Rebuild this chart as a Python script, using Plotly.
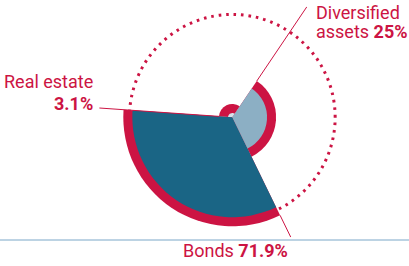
import plotly.graph_objects as go

# ---- data ----
categories = ["Real estate", "Bonds", "Diversified assets"]
values = [3.1, 71.9, 25.0]
fill_colors = ["#d6e2ea", "#1a6585", "#8cafc4"]

RED = "#cc1443"
RING = 6.5          # thickness of red outer ring (radial units)
DOT_R = 74          # dotted reference circle
LEADER_R = 96       # leader line length (radial units)
PX_PER_UNIT = 1.39

n = len(categories)
step = 360 / n
thetas = [i * step for i in range(n)]
ROT = 116

W, H = 409, 266
cx, cy = 232.3, 117.3
P = 117.0                       # radius (px) of main polar
R_MAX = P / PX_PER_UNIT
P2 = LEADER_R * PX_PER_UNIT     # radius (px) of leader-line polar
SEC = [170, 420]                # sector holding leader lines
TOP_FRAC = 0.866                # sin(60deg): upper extent of that sector
FS = 18

fig = go.Figure()

# red outer rings
fig.add_trace(go.Barpolar(
    r=[v + RING for v in values], theta=thetas, width=[step] * n,
    marker=dict(color=RED, line=dict(width=0)), showlegend=False,
    hoverinfo="skip", subplot="polar"))

# value slices
fig.add_trace(go.Barpolar(
    r=values, theta=thetas, width=[step] * n,
    marker=dict(color=fill_colors, line=dict(width=0)), showlegend=False,
    customdata=categories, hovertemplate="%{customdata}: %{r}%<extra></extra>",
    subplot="polar"))

# leader lines along the counter-clockwise edge of each slice
for i, cat in enumerate(categories):
    t = thetas[i] + step / 2
    fig.add_trace(go.Scatterpolar(
        r=[values[i] + RING, LEADER_R], theta=[t, t], mode="lines",
        line=dict(color=RED, width=1), cliponaxis=False,
        hoverinfo="skip", showlegend=False, subplot="polar2"))

hidden_angular = dict(rotation=ROT, direction="counterclockwise",
                      showgrid=False, showline=False, showticklabels=False,
                      ticks="", layer="below traces")

fig.update_layout(
    width=W, height=H,
    margin=dict(l=0, r=0, t=0, b=0),
    paper_bgcolor="white", plot_bgcolor="white",
    font=dict(family="Roboto", color=RED, size=FS),
    polar=dict(
        barmode="overlay", bargap=0,
        domain=dict(x=[(cx - P) / W, (cx + P) / W],
                    y=[(H - (cy + P)) / H, (H - (cy - P)) / H]),
        bgcolor="rgba(0,0,0,0)",
        radialaxis=dict(range=[0, R_MAX], tickvals=[DOT_R], showticklabels=False,
                        ticks="", showline=False, showgrid=True,
                        gridcolor=RED, gridwidth=2.6, griddash="2.6px,4.9px",
                        layer="below traces"),
        angularaxis=hidden_angular,
    ),
    polar2=dict(
        sector=SEC,
        domain=dict(x=[(cx - P2) / W, (cx + P2) / W],
                    y=[(H - (cy + P2)) / H, (H - (cy - TOP_FRAC * P2)) / H]),
        bgcolor="rgba(0,0,0,0)",
        radialaxis=dict(range=[0, LEADER_R], visible=False),
        angularaxis=dict(hidden_angular, visible=False),
    ),
    shapes=[dict(type="line", xref="paper", yref="paper", x0=0, x1=1,
                 y0=(H - 240) / H, y1=(H - 240) / H,
                 line=dict(color="#7ba7c8", width=1))],
)

def ann(text, xpx, baseline, anchor):
    fig.add_annotation(text=text, xref="paper", yref="paper",
                       x=xpx / W, y=(H - (baseline - 6)) / H,
                       xanchor=anchor, yanchor="middle", showarrow=False,
                       borderpad=0, font=dict(family="Roboto", size=FS, color=RED))

ann("Diversified", 315, 18.3, "left")
ann("assets <b>25%</b>", 315, 37.3, "left")
ann("Real estate", 3, 87.7, "left")
ann("<b>3.1%</b>", 94.3, 109.3, "right")
ann("Bonds <b>71.9%</b>", 182.3, 256, "left")

fig.write_html("out.html", config={"displayModeBar": False},
               post_script="document.body.style.margin='0px';document.body.style.overflow='hidden';")
